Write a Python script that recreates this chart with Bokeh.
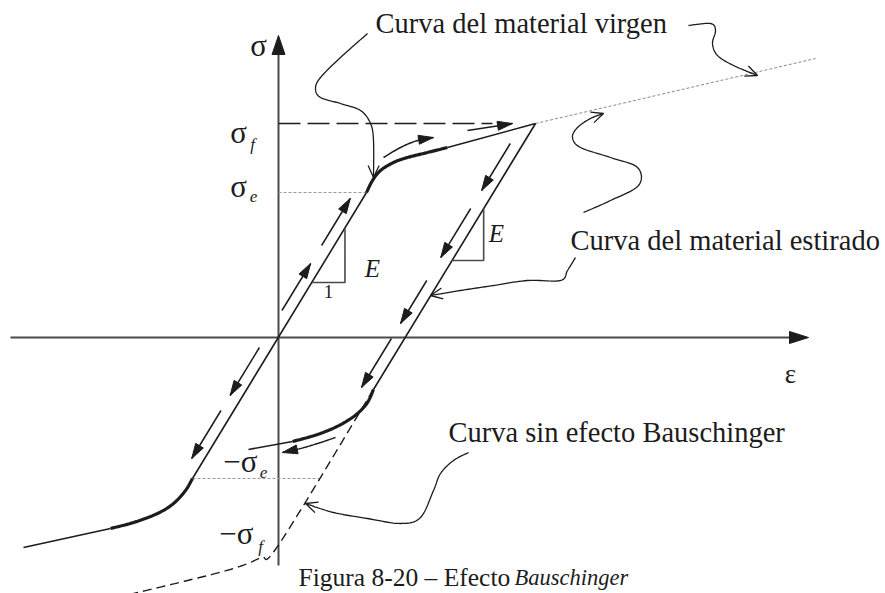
import numpy as np
from bokeh.plotting import figure
from bokeh.models import Range1d, Label
from bokeh.embed import file_html
from bokeh.resources import INLINE

# ---------------------------------------------------------------
# Diagram values: strain to the right, stress upward
# (one diagram unit is one screen pixel)
# ---------------------------------------------------------------
E_MOD = 1.64          # elastic slope
SIG_E = 145           # yield stress of the virgin material
SIG_F = 214           # stress reached before unloading
EPS_F = 257           # strain at SIG_F
SIG_E_REV = -141      # compressive yield of the virgin material
SIG_REV_DEPART = -52  # reverse yield of the stretched material
SIG_F_REV = -206      # reverse level without Bauschinger effect

# virgin material, tension: hardening knee (thick), then straight to (EPS_F, SIG_F)
virgin_t_eps = [88, 94, 102, 115, 129, 149, 169]
virgin_t_sig = [145, 157, 167, 175, 180, 185, 190]
# virgin material, compression knee (thick) and thin tail
virgin_c_eps = [-86, -93, -105, -121, -145, -168]
virgin_c_sig = [-141, -153, -166, -176, -185, -191]
virgin_c_end = (-255, -210)
# virgin curve continued beyond SIG_F (dotted)
virgin_ext_end = (537, 279)
# stretched material, reverse loading knee (thick) and thin tail
rev_eps = [95, 89, 79, 66, 52, 36, 14]
rev_sig = [-52, -65, -76, -85, -92, -98, -104]
rev_end = (-30, -112)
# curve without Bauschinger effect (dashed)
nob_eps = [1, -18, -45, -91, -141, -170]
nob_sig = [-206, -220, -231, -243, -255, -262]

# direction arrows along the elastic branches (stress start, stress end)
load_arrows = [(27, 74), (92, 139)]
unload_arrows = [(194, 147), (129, 80), (57, 14), (-1, -50)]
compress_arrows = [(-10, -58), (-73, -121)]
ARROW_SHIFT = -13
# curved direction arrows beside the knees
knee_arrow_up_eps = [105, 122, 139, 155]
knee_arrow_up_sig = [180, 190, 197, 200]
knee_arrow_rev_eps = [57, 39, 22, 4]
knee_arrow_rev_sig = [-100, -106, -111, -115]
top_arrow = ((189, 207), (234, 214))

# slope triangles (stress span on each elastic branch)
tri_load = (55, 109)
tri_unload = (77, 129)

# leader curves from the captions
lead_virgin_a = ([89, 62, 42, 37, 42, 62, 82, 92, 95, 95],
                 [304, 280, 260, 249, 240, 234, 227, 214, 197, 160])
lead_virgin_b = ([410, 432, 437, 434, 439, 455, 479],
                 [312, 314, 307, 294, 282, 272, 262])
lead_stretch_a = ([305, 332, 360, 359, 332, 302, 294, 299, 312, 325],
                  [125, 137, 152, 170, 180, 190, 200, 210, 219, 224])
lead_stretch_b = ([297, 289, 282, 249, 215, 182, 152],
                  [80, 67, 57, 57, 52, 47, 42])
lead_nob = ([190, 175, 162, 155, 142, 122, 89, 55, 27],
            [-115, -123, -136, -153, -180, -186, -181, -175, -166])

INK = "#1c1c1c"
AXIS = "#4a4a4a"
SERIF = "Liberation Serif"


def smooth(xs, ys, n=12):
    """Catmull-Rom path through the given points."""
    pts = np.column_stack([xs, ys]).astype(float)
    P = np.vstack([pts[0], pts, pts[-1]])
    out = []
    t = np.linspace(0, 1, n, endpoint=False)[:, None]
    for i in range(1, len(P) - 2):
        p0, p1, p2, p3 = P[i - 1], P[i], P[i + 1], P[i + 2]
        seg = 0.5 * (2 * p1 + (-p0 + p2) * t
                     + (2 * p0 - 5 * p1 + 4 * p2 - p3) * t ** 2
                     + (-p0 + 3 * p1 - 3 * p2 + p3) * t ** 3)
        out.append(seg)
    out.append(pts[-1:])
    res = np.vstack(out)
    return res[:, 0], res[:, 1]


def head(tip, prev, length, half):
    d = np.array(tip, float) - np.array(prev, float)
    d /= np.hypot(*d)
    nrm = np.array([-d[1], d[0]])
    base = np.array(tip, float) - length * d
    a = base + half * nrm
    b = base - half * nrm
    return [a[0], tip[0], b[0]], [a[1], tip[1], b[1]]


p = figure(width=885, height=593, x_range=Range1d(-278, 607), y_range=Range1d(-256, 337),
           output_backend="svg", toolbar_location=None, min_border=0,
           x_axis_location=None, y_axis_location=None)
p.grid.visible = False
p.outline_line_color = None
p.background_fill_color = "white"
p.border_fill_color = "white"

filled_x, filled_y = [], []
open_x, open_y = [], []

# ---- axes ----
p.line([-268, 512], [0, 0], line_color=AXIS, line_width=2)
p.line([0, 0], [-228, 286], line_color=AXIS, line_width=2)
hx, hy = head((530, 0), (0, 0), 19, 6)
filled_x.append(hx); filled_y.append(hy)
hx, hy = head((0, 302), (0, 0), 19, 6.5)
filled_x.append(hx); filled_y.append(hy)

# ---- reference levels ----
p.line([0, virgin_t_eps[0]], [SIG_E, SIG_E], line_color="#9a9a9a", line_width=1, line_dash="3 2")
x_nob_e = EPS_F - (SIG_F - SIG_E_REV) / E_MOD
p.line([virgin_c_eps[0], x_nob_e], [SIG_E_REV, SIG_E_REV], line_color="#9a9a9a", line_width=1, line_dash="3 2")
p.line([0, 214], [SIG_F, SIG_F], line_color=INK, line_width=1.6, line_dash="22 7")
p.line([EPS_F, virgin_ext_end[0]], [SIG_F, virgin_ext_end[1]], line_color="#8a8a8a", line_width=1, line_dash="3 2")

# ---- virgin material ----
p.line([virgin_c_eps[0], virgin_t_eps[0]], [virgin_c_sig[0], virgin_t_sig[0]], line_color=INK, line_width=1.6)
sx, sy = smooth(virgin_t_eps, virgin_t_sig)
p.line(sx, sy, line_color=INK, line_width=3.2)
p.line([virgin_t_eps[-1], EPS_F], [virgin_t_sig[-1], SIG_F], line_color=INK, line_width=1.6)
sx, sy = smooth(virgin_c_eps, virgin_c_sig)
p.line(sx, sy, line_color=INK, line_width=3.2)
p.line([virgin_c_eps[-1], virgin_c_end[0]], [virgin_c_sig[-1], virgin_c_end[1]], line_color=INK, line_width=1.6)

# ---- stretched material: unloading and reverse loading ----
p.line([EPS_F, rev_eps[0]], [SIG_F, rev_sig[0]], line_color=INK, line_width=1.6)
sx, sy = smooth(rev_eps, rev_sig)
p.line(sx, sy, line_color=INK, line_width=3.2)
p.line([rev_eps[-1], rev_end[0]], [rev_sig[-1], rev_end[1]], line_color=INK, line_width=1.6)

# ---- without Bauschinger effect ----
nx, ny = smooth([rev_eps[0]] + nob_eps, [rev_sig[0]] + nob_sig, n=16)
p.line(nx, ny, line_color=INK, line_width=1.4, line_dash="9 5")

# ---- slope triangles ----
s0, s1 = tri_load
p.line([s1 / E_MOD, s1 / E_MOD, s0 / E_MOD], [s1, s0, s0], line_color=AXIS, line_width=1.6)
s0, s1 = tri_unload
xu = lambda s: EPS_F - (SIG_F - s) / E_MOD
p.line([xu(s1), xu(s1), xu(s0)], [s1, s0, s0], line_color=AXIS, line_width=1.6)

# ---- direction arrows ----
def straight_arrow(x0, y0, x1, y1):
    p.line([x0, x1], [y0, y1], line_color=INK, line_width=1.5)
    ax, ay = head((x1, y1), (x0, y0), 15, 4.5)
    filled_x.append(ax); filled_y.append(ay)

for a, b in load_arrows:
    straight_arrow(a / E_MOD + ARROW_SHIFT, a, b / E_MOD + ARROW_SHIFT, b)
for a, b in compress_arrows:
    straight_arrow(a / E_MOD + ARROW_SHIFT, a, b / E_MOD + ARROW_SHIFT, b)
for a, b in unload_arrows:
    straight_arrow(xu(a) + ARROW_SHIFT, a, xu(b) + ARROW_SHIFT, b)
straight_arrow(*top_arrow[0], *top_arrow[1])

for ex, ey in ((knee_arrow_up_eps, knee_arrow_up_sig), (knee_arrow_rev_eps, knee_arrow_rev_sig)):
    cx, cy = smooth(ex, ey)
    p.line(cx, cy, line_color=INK, line_width=1.5)
    ax, ay = head((ex[-1], ey[-1]), (cx[-4], cy[-4]), 15, 4.5)
    filled_x.append(ax); filled_y.append(ay)

# ---- leader curves ----
for lx, ly in (lead_virgin_a, lead_virgin_b, lead_stretch_a, lead_stretch_b, lead_nob):
    cx, cy = smooth(lx, ly)
    p.line(cx, cy, line_color=INK, line_width=1.3)
    ax, ay = head((lx[-1], ly[-1]), (cx[-4], cy[-4]), 12, 5.5)
    open_x.append(ax); open_y.append(ay)

p.patches(filled_x, filled_y, fill_color=INK, line_color=INK, line_width=1)
p.multi_line(open_x, open_y, line_color=INK, line_width=1.3)

# ---- texts ----
def label(x, y, text, size, style="normal", align="left"):
    p.add_layout(Label(x=x, y=y, text=text, text_font=SERIF, text_font_size=f"{size}px",
                       text_font_style=style, text_color=INK, text_align=align,
                       text_baseline="middle"))

label(97, 314, "Curva del material virgen", 28.5)
label(292, 97, "Curva del material estirado", 28.5)
label(170, -95, "Curva sin efecto Bauschinger", 28.5)
label(20, -240, "Figura 8-20 – Efecto ", 25.5)
label(236, -240, "Bauschinger", 22.5, style="italic")

label(-20, 292, "σ", 31, align="center")
label(512, -36, "ε", 27, align="center")
label(-40, 205, "σ", 31, align="center")
label(-26, 193, "f", 17, style="italic", align="center")
label(-40, 151, "σ", 31, align="center")
label(-25, 141, "e", 17, style="italic", align="center")
label(-21, -124, "−σ", 31, align="right")
label(-15, -135, "e", 17, style="italic", align="center")
label(-25, -196, "−σ", 31, align="right")
label(-18, -209, "f", 17, style="italic", align="center")
label(94, 69, "E", 25, style="italic", align="center")
label(218, 104, "E", 25, style="italic", align="center")
label(50, 46, "1", 19, align="center")

open("out.html", "w").write(file_html(p, INLINE))
